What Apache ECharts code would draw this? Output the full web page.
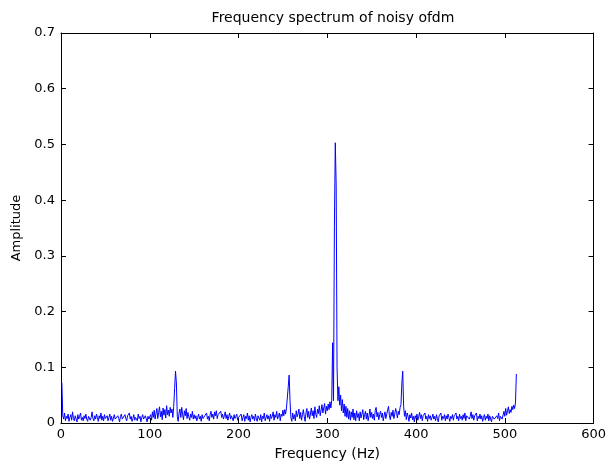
<!DOCTYPE html>
<html>
<head>
<meta charset="utf-8">
<script src="https://cdn.jsdelivr.net/npm/echarts@6/dist/echarts.min.js"></script>
<style>
  html, body { margin: 0; padding: 0; background: #fff; }
  #chart { width: 609px; height: 466px; }
</style>
</head>
<body>
<div id="chart"></div>
<script>
// 幅值，按频率 1..513 逐点读图估计
const amp001 = [
  0.072, 0.013, 0.007, 0.018, 0.004, 0.012, 0.008, 0.016, 0.003, 0.010,
  0.015, 0.005, 0.020, 0.008, 0.004, 0.013, 0.010, 0.002, 0.015, 0.007,
  0.012, 0.018, 0.005, 0.010, 0.004, 0.013, 0.008, 0.016, 0.007, 0.003,
  0.012, 0.015, 0.005, 0.010, 0.020, 0.008, 0.004, 0.013, 0.007, 0.016,
  0.010, 0.003, 0.013, 0.008, 0.018, 0.005, 0.012, 0.004, 0.015, 0.008
]
const amp051 = [
  0.007, 0.013, 0.004, 0.010, 0.016, 0.005, 0.012, 0.003, 0.008, 0.015,
  0.007, 0.010, 0.004, 0.013, 0.008, 0.002, 0.012, 0.016, 0.007, 0.010,
  0.005, 0.015, 0.008, 0.004, 0.013, 0.010, 0.018, 0.007, 0.012, 0.003,
  0.008, 0.015, 0.005, 0.010, 0.013, 0.004, 0.016, 0.008, 0.012, 0.002,
  0.010, 0.015, 0.007, 0.004, 0.013, 0.008, 0.002, 0.012, 0.007, 0.010
]
const amp101 = [
  0.015, 0.005, 0.020, 0.010, 0.023, 0.007, 0.017, 0.026, 0.008, 0.019,
  0.029, 0.011, 0.021, 0.006, 0.027, 0.014, 0.024, 0.009, 0.031, 0.015,
  0.023, 0.012, 0.028, 0.018, 0.025, 0.010, 0.030, 0.062, 0.093, 0.072,
  0.012, 0.003, 0.018, 0.025, 0.010, 0.028, 0.015, 0.006, 0.022, 0.013,
  0.026, 0.008, 0.019, 0.011, 0.005, 0.016, 0.010, 0.021, 0.007, 0.015
]
const amp151 = [
  0.008, 0.013, 0.004, 0.010, 0.016, 0.007, 0.012, 0.003, 0.015, 0.008,
  0.005, 0.013, 0.010, 0.018, 0.007, 0.012, 0.004, 0.015, 0.021, 0.010,
  0.016, 0.007, 0.020, 0.013, 0.022, 0.008, 0.015, 0.018, 0.012, 0.021,
  0.010, 0.016, 0.007, 0.013, 0.020, 0.008, 0.015, 0.005, 0.012, 0.018,
  0.007, 0.013, 0.010, 0.004, 0.015, 0.008, 0.012, 0.016, 0.005, 0.010
]
const amp201 = [
  0.013, 0.007, 0.016, 0.004, 0.010, 0.015, 0.003, 0.012, 0.008, 0.018,
  0.005, 0.013, 0.002, 0.010, 0.015, 0.007, 0.012, 0.004, 0.016, 0.008,
  0.003, 0.013, 0.010, 0.005, 0.015, 0.002, 0.012, 0.008, 0.018, 0.004,
  0.010, 0.015, 0.007, 0.013, 0.003, 0.016, 0.008, 0.012, 0.020, 0.005,
  0.015, 0.010, 0.021, 0.007, 0.013, 0.018, 0.004, 0.016, 0.012, 0.023
]
const amp251 = [
  0.013, 0.024, 0.016, 0.027, 0.030, 0.065, 0.086, 0.040, 0.010, 0.003,
  0.018, 0.007, 0.015, 0.004, 0.022, 0.011, 0.016, 0.025, 0.008, 0.019,
  0.005, 0.015, 0.024, 0.012, 0.003, 0.018, 0.026, 0.010, 0.021, 0.007,
  0.016, 0.027, 0.013, 0.022, 0.008, 0.029, 0.016, 0.010, 0.025, 0.017,
  0.031, 0.013, 0.023, 0.033, 0.018, 0.027, 0.035, 0.016, 0.030, 0.022
]
const amp301 = [
  0.034, 0.024, 0.038, 0.027, 0.041, 0.144, 0.040, 0.352, 0.503, 0.427,
  0.099, 0.040, 0.065, 0.032, 0.050, 0.022, 0.042, 0.018, 0.034, 0.012,
  0.030, 0.010, 0.026, 0.007, 0.022, 0.005, 0.020, 0.010, 0.025, 0.006,
  0.018, 0.004, 0.022, 0.010, 0.017, 0.004, 0.020, 0.009, 0.016, 0.024,
  0.006, 0.015, 0.021, 0.007, 0.018, 0.004, 0.013, 0.025, 0.010, 0.019
]
const amp351 = [
  0.008, 0.016, 0.005, 0.022, 0.028, 0.011, 0.019, 0.006, 0.015, 0.021,
  0.010, 0.018, 0.004, 0.013, 0.020, 0.008, 0.016, 0.024, 0.030, 0.013,
  0.006, 0.019, 0.012, 0.023, 0.008, 0.016, 0.026, 0.019, 0.009, 0.021,
  0.015, 0.028, 0.033, 0.072, 0.093, 0.030, 0.012, 0.022, 0.006, 0.018,
  0.012, 0.003, 0.015, 0.009, 0.018, 0.006, 0.012, 0.002, 0.013, 0.008
]
const amp401 = [
  0.016, 0.005, 0.012, 0.019, 0.008, 0.015, 0.004, 0.013, 0.010, 0.018,
  0.007, 0.012, 0.003, 0.015, 0.008, 0.013, 0.005, 0.010, 0.016, 0.007,
  0.012, 0.004, 0.015, 0.008, 0.002, 0.013, 0.010, 0.018, 0.005, 0.012,
  0.008, 0.015, 0.004, 0.013, 0.007, 0.016, 0.010, 0.003, 0.012, 0.008,
  0.015, 0.005, 0.013, 0.010, 0.018, 0.007, 0.012, 0.004, 0.016, 0.008
]
const amp451 = [
  0.012, 0.005, 0.015, 0.008, 0.018, 0.004, 0.013, 0.010, 0.016, 0.007,
  0.012, 0.020, 0.008, 0.015, 0.005, 0.013, 0.010, 0.018, 0.004, 0.012,
  0.008, 0.016, 0.007, 0.013, 0.003, 0.010, 0.015, 0.005, 0.012, 0.008,
  0.016, 0.004, 0.013, 0.010, 0.002, 0.012, 0.015, 0.007, 0.010, 0.005,
  0.013, 0.008, 0.018, 0.004, 0.012, 0.015, 0.007, 0.010, 0.021, 0.012,
  0.026, 0.014, 0.022, 0.029, 0.017, 0.024, 0.019, 0.030, 0.024, 0.032,
  0.026, 0.036, 0.088
]

const xTicks = [0, 100, 200, 300, 400, 500, 600]
const yTicks = ['0', '0.1', '0.2', '0.3', '0.4', '0.5', '0.6', '0.7']

const amp = [].concat(amp001, amp051, amp101, amp151, amp201, amp251, amp301, amp351, amp401, amp451)
// 频率从 1 开始
const points = amp.map((v, i) => [i + 1, v])

const font = 'DejaVu Sans, Arial, sans-serif'
const boxLine = { show: true, onZero: false, lineStyle: { color: '#000', width: 1 } }
const tick = { show: true, inside: true, length: 5, lineStyle: { color: '#000' } }

const chart = echarts.init(document.getElementById('chart'))
chart.setOption({
  animation: false,
  backgroundColor: '#fff',
  title: {
    text: 'Frequency spectrum of noisy ofdm',
    left: 328, top: 6, textAlign: 'center',
    textStyle: { fontFamily: font, fontSize: 14, fontWeight: 'normal', color: '#000' }
  },
  grid: { left: 61, right: 13, top: 33, bottom: 43 },
  xAxis: [{
    type: 'value', min: xTicks[0], max: xTicks[xTicks.length - 1], interval: 100,
    name: 'Frequency (Hz)', nameLocation: 'middle', nameGap: 24,
    nameTextStyle: { fontFamily: font, fontSize: 14, color: '#000' },
    axisLine: boxLine, axisTick: tick, splitLine: { show: false },
    axisLabel: { fontFamily: font, fontSize: 13, color: '#000', margin: 5 }
  }, {
    type: 'value', position: 'top', min: 0, max: 600, interval: 100,
    axisLine: boxLine, axisTick: tick, splitLine: { show: false }, axisLabel: { show: false }
  }],
  yAxis: [{
    type: 'value', min: 0, max: 0.7, interval: 0.1,
    name: 'Amplitude', nameLocation: 'middle', nameGap: 38, nameRotate: 90,
    nameTextStyle: { fontFamily: font, fontSize: 13, color: '#000' },
    axisLine: boxLine, axisTick: tick, splitLine: { show: false },
    axisLabel: {
      fontFamily: font, fontSize: 13, color: '#000', margin: 6,
      formatter: (v) => yTicks[Math.round(v * 10)]
    }
  }, {
    type: 'value', position: 'right', min: 0, max: 0.7, interval: 0.1,
    axisLine: boxLine, axisTick: tick, splitLine: { show: false }, axisLabel: { show: false }
  }],
  series: [{
    type: 'line',
    data: points,
    showSymbol: false,
    lineStyle: { color: '#0000ff', width: 1 },
    itemStyle: { color: '#0000ff' }
  }]
})
</script>
</body>
</html>
